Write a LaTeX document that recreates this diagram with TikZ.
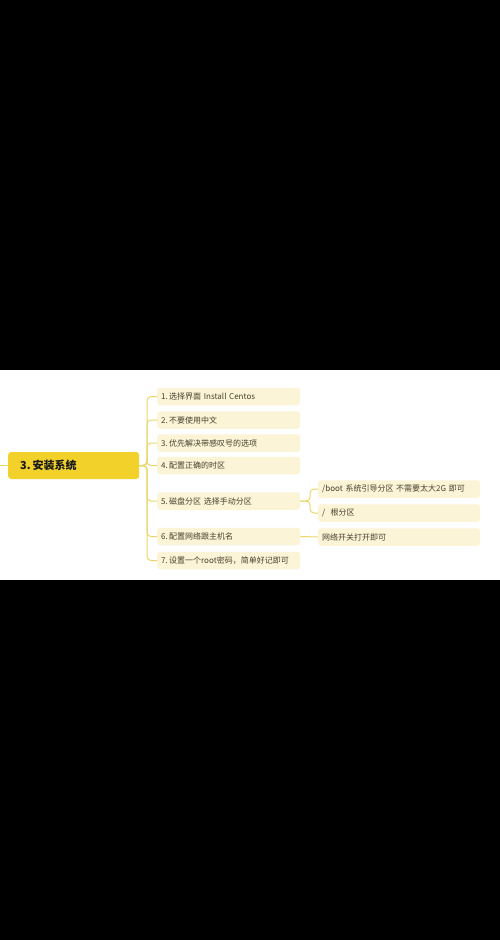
\documentclass[tikz,border=0pt]{standalone}
\usepackage{fontspec}
\setmainfont{Noto Sans CJK SC}
\definecolor{rootfill}{HTML}{F2D12B}
\definecolor{childfill}{HTML}{FCF4D6}
\definecolor{linecol}{HTML}{EBD66E}
\definecolor{txt}{HTML}{45402F}
\tikzset{
  rootbox/.style={fill=rootfill, rounded corners=3bp, anchor=west, minimum height=27bp,
    inner xsep=12bp, inner ysep=0bp, text width=107bp, align=left,
    font=\fontsize{11bp}{13bp}\selectfont\bfseries, text=black!90},
  childbox/.style={fill=childfill, rounded corners=3bp, anchor=west, minimum height=17.5bp,
    inner xsep=4bp, inner ysep=0bp, text width=135bp, align=left,
    font=\fontsize{8bp}{9.5bp}\selectfont, text=txt},
  subbox/.style={childbox, text width=154bp},
  conn/.style={draw=linecol, line width=1bp, rounded corners=4bp}
}
\begin{document}
\begin{tikzpicture}[x=1bp,y=-1bp]
\useasboundingbox (0,0) rectangle (500,940);
\fill[black] (0,0) rectangle (500,940);
\fill[white] (0,370) rectangle (500,580);
% root
\node[rootbox] (root) at (8,465.5) {3.\,安装系统};
\coordinate (lin) at (0,465.5);
\draw[conn] (lin) -- (root.west);
% children
\node[childbox] (c1) at (157,396.5) {1.\,选择界面 Install Centos};
\node[childbox] (c2) at (157,420) {2.\,不要使用中文};
\node[childbox] (c3) at (157,443) {3.\,优先解决带感叹号的选项};
\node[childbox] (c4) at (157,465.5) {4.\,配置正确的时区};
\node[childbox] (c5) at (157,501) {5.\,磁盘分区 选择手动分区};
\node[childbox] (c6) at (157,536.5) {6.\,配置网络跟主机名};
\node[childbox] (c7) at (157,560.5) {7.\,设置一个root密码，简单好记即可};
% sub-children
\node[subbox] (s1) at (318,489) {/boot 系统引导分区 不需要太大2G 即可};
\node[subbox] (s2) at (318,513) {/ \ 根分区};
\node[subbox] (s3) at (318,537) {网络开关打开即可};
% connectors
\coordinate (sp) at (147,465.5);
\foreach \c in {c1,c2,c3,c4,c5,c6,c7}{
  \draw[conn] (root.east) -- (sp) |- (\c.west);
}
\coordinate (bp) at (310,501);
\draw[conn] (c5.east) -- (bp) |- (s1.west);
\draw[conn] (c5.east) -- (bp) |- (s2.west);
\draw[conn] (c6.east) -- (s3.west);
\end{tikzpicture}
\end{document}
